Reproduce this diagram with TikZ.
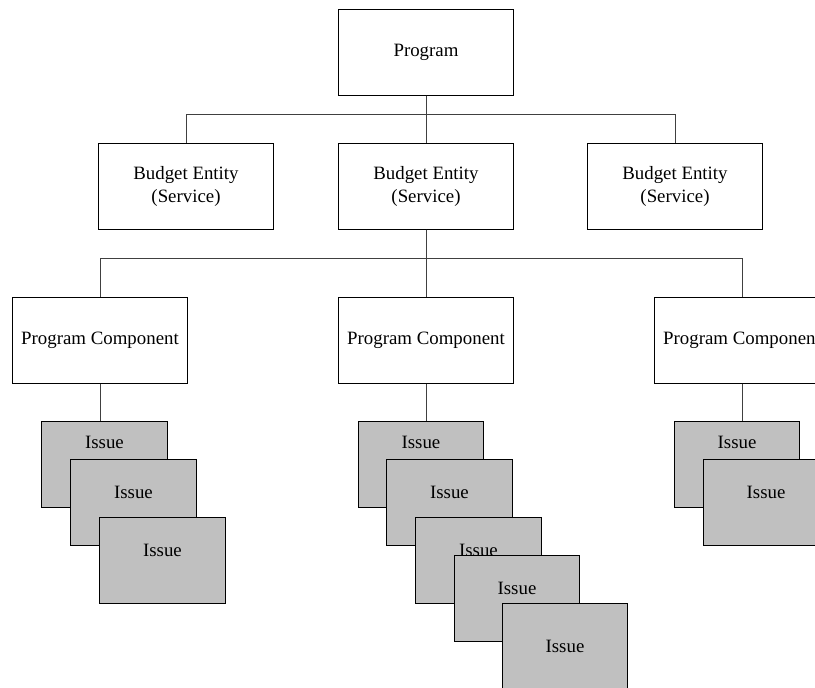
\documentclass[tikz,border=0pt]{standalone}
\usepackage{fontspec}
\setmainfont{Liberation Serif}

\definecolor{issuegray}{RGB}{192,192,192}
\definecolor{linegray}{RGB}{64,64,64}

\tikzset{
    box/.style={draw, line width=0.7pt, fill=white, minimum width=4.35cm,
        minimum height=2.15cm, inner sep=0pt, font=\fontsize{13.4}{16.4}\selectfont},
    issue/.style={box, fill=issuegray, minimum width=3.125cm, text depth=#1},
    issue/.default=0pt,
    link/.style={draw=linegray, line width=0.7pt}
}

\begin{document}
\begin{tikzpicture}[x=0.025cm, y=-0.025cm]

    % Page size (shapes on the right and bottom run off the edge)
    \useasboundingbox (0,0) rectangle (815,687);
    \clip (0,0) rectangle (815,687);

    % Program at the top
    \node[box] (prog) at (426,52) {Program};

    % Budget entities
    \node[box, align=center] (be1) at (186,186) {Budget Entity\\(Service)};
    \node[box, align=center] (be2) at (426,186) {Budget Entity\\(Service)};
    \node[box, align=center] (be3) at (675,186) {Budget Entity\\(Service)};

    % Program components
    \node[box] (pc1) at (100,340) {Program Component};
    \node[box] (pc2) at (426,340) {Program Component};
    \node[box] (pc3) at (742,340) {Program Component};

    % Links from Program to the budget entities
    \draw[link] (prog.south) -- ++(0,19) -| (be1.north);
    \draw[link] (prog.south) -- ++(0,19) -| (be3.north);
    \draw[link] (prog) -- (be2);

    % Links from the middle budget entity to the components
    \draw[link] (be2.south) -- ++(0,29) -| (pc1.north);
    \draw[link] (be2.south) -- ++(0,29) -| (pc3.north);
    \draw[link] (be2) -- (pc2);

    % Issues under the left component
    \node[issue=1.1cm] (a1) at (104.5,464) {Issue};
    \node[issue=0.5cm] (a2) at (133.5,502.5) {Issue};
    \node[issue=0.5cm] (a3) at (162.5,560) {Issue};
    \draw[link] (pc1.south) -- (pc1.south |- a1.north);

    % Issues under the middle component
    \node[issue=1.1cm] (b1) at (421,464) {Issue};
    \node[issue=0.5cm] (b2) at (449.5,502.5) {Issue};
    \node[issue=0.5cm] (b3) at (478.5,560) {Issue};
    \node[issue=0.5cm] (b4) at (517,598) {Issue};
    \node[issue] (b5) at (565,646) {Issue};
    \draw[link] (pc2.south) -- (pc2.south |- b1.north);

    % Issues under the right component
    \node[issue=1.1cm] (c1) at (737,464.5) {Issue};
    \node[issue=0.5cm] (c2) at (766,502.5) {Issue};
    \draw[link] (pc3.south) -- (pc3.south |- c1.north);

\end{tikzpicture}
\end{document}
